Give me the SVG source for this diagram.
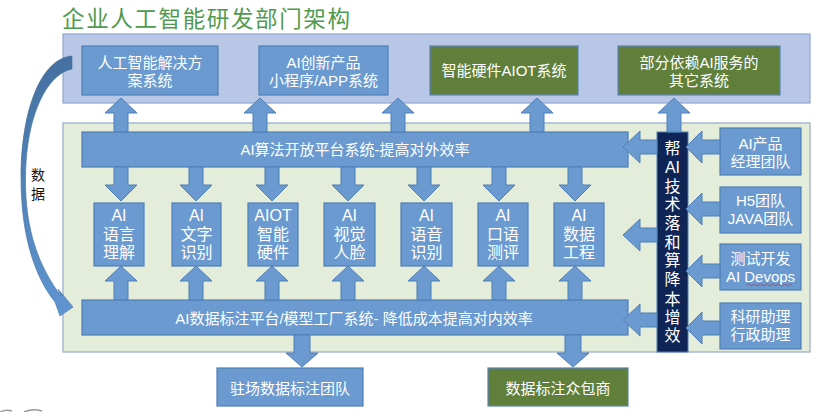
<svg xmlns="http://www.w3.org/2000/svg" width="830" height="412" viewBox="0 0 830 412">
<defs>
<style>
.t{font-family:"Liberation Sans","Noto Sans CJK SC",sans-serif;fill:#ffffff;text-anchor:middle;font-size:15px}
.s{font-size:16px}
.blue{fill:#6a9ad0;stroke:#4f7fb8;stroke-width:1.2}
.green{fill:#5f7f3b;stroke:#5a84bb;stroke-width:1.2}
.arr{fill:#6a9ad0;stroke:#4f7fb8;stroke-width:1}
.d{font-family:"Noto Sans CJK SC",sans-serif;font-size:14px;fill:#111111;text-anchor:middle}
</style>
<linearGradient id="cg" x1="0" y1="0" x2="0" y2="1">
<stop offset="0" stop-color="#44709f"/>
<stop offset="1" stop-color="#5f95d2"/>
</linearGradient>
</defs>
<rect width="830" height="412" fill="#ffffff"/>
<text x="62" y="26.5" style="font-family:'Noto Sans CJK SC',sans-serif;font-size:22.5px;fill:#4f9a4f" textLength="288">企业人工智能研发部门架构</text>

<g id="panel-top"><rect x="63" y="34" width="747" height="69" fill="#b8c7e6" stroke="#8fa6cf" stroke-width="1.2"/></g>
<g id="panel-bottom"><rect x="63" y="123" width="747" height="229" fill="#e4edd9" stroke="#95aacc" stroke-width="1.2"/></g>

<g id="box-ai-solution"><rect class="blue" x="82" y="46" width="136" height="49"/><text class="t" x="150" y="67.5">人工智能解决方</text><text class="t" x="150" y="85.5">案系统</text></g>
<g id="box-ai-product"><rect class="blue" x="259" y="46" width="129" height="49"/><text class="t" x="323.5" y="67.5">AI创新产品</text><text class="t" x="323.5" y="85.5">小程序/APP系统</text></g>
<g id="box-aiot"><rect class="green" x="430" y="46" width="148" height="49"/><text class="t" x="504" y="76">智能硬件AIOT系统</text></g>
<g id="box-other"><rect class="green" x="618" y="46" width="162" height="49"/><text class="t" x="699" y="67.5">部分依赖AI服务的</text><text class="t" x="699" y="85.5">其它系统</text></g>

<g id="bar-algo"><rect class="blue" x="82" y="132" width="546" height="35"/><text class="t" x="355" y="155">AI算法开放平台系统-提高对外效率</text></g>
<g id="bar-data"><rect class="blue" x="82" y="300" width="546" height="35"/><text class="t" x="354" y="323.5">AI数据标注平台/模型工厂系统- 降低成本提高对内效率</text></g>

<g id="m1"><rect class="blue" x="94" y="203" width="50" height="63"/><text class="t s" x="119" y="221">AI</text><text class="t s" x="119" y="240">语言</text><text class="t s" x="119" y="258">理解</text></g>
<g id="m2"><rect class="blue" x="172" y="203" width="49" height="63"/><text class="t s" x="196.5" y="221">AI</text><text class="t s" x="196.5" y="240">文字</text><text class="t s" x="196.5" y="258">识别</text></g>
<g id="m3"><rect class="blue" x="248" y="203" width="50" height="63"/><text class="t s" x="273" y="221">AIOT</text><text class="t s" x="273" y="240">智能</text><text class="t s" x="273" y="258">硬件</text></g>
<g id="m4"><rect class="blue" x="324" y="203" width="51" height="63"/><text class="t s" x="349.5" y="221">AI</text><text class="t s" x="349.5" y="240">视觉</text><text class="t s" x="349.5" y="258">人脸</text></g>
<g id="m5"><rect class="blue" x="401" y="203" width="51" height="63"/><text class="t s" x="426.5" y="221">AI</text><text class="t s" x="426.5" y="240">语音</text><text class="t s" x="426.5" y="258">识别</text></g>
<g id="m6"><rect class="blue" x="478" y="203" width="50" height="63"/><text class="t s" x="503" y="221">AI</text><text class="t s" x="503" y="240">口语</text><text class="t s" x="503" y="258">测评</text></g>
<g id="m7"><rect class="blue" x="554" y="203" width="50" height="63"/><text class="t s" x="579" y="221">AI</text><text class="t s" x="579" y="240">数据</text><text class="t s" x="579" y="258">工程</text></g>

<g id="navy"><rect x="657" y="132" width="31" height="220" fill="#0f2555" stroke="#4f7fb8" stroke-width="1"/>
<text class="t s" x="672.5" y="154">帮</text>
<text class="t s" x="672.5" y="173">AI</text>
<text class="t s" x="672.5" y="192">技</text>
<text class="t s" x="672.5" y="210">术</text>
<text class="t s" x="672.5" y="229">落</text>
<text class="t s" x="672.5" y="248">和</text>
<text class="t s" x="672.5" y="266">算</text>
<text class="t s" x="672.5" y="285">降</text>
<text class="t s" x="672.5" y="305">本</text>
<text class="t s" x="672.5" y="323">增</text>
<text class="t s" x="672.5" y="341">效</text>
</g>

<g id="team-pm"><rect class="blue" x="720" y="128" width="81" height="47"/><text class="t" x="760.5" y="148.5">AI产品</text><text class="t" x="760.5" y="166.5">经理团队</text></g>
<g id="team-dev"><rect class="blue" x="720" y="187" width="81" height="46"/><text class="t" x="760.5" y="205.5">H5团队</text><text class="t" x="760.5" y="223.5">JAVA团队</text></g>
<g id="team-test"><rect class="blue" x="720" y="244" width="81" height="46"/><text class="t" x="760.5" y="263.5">测试开发</text><text class="t" x="760.5" y="281.5">AI Devops</text>
<path d="M747,285 q1.5,-2 3,0 t3,0 t3,0 t3,0 t3,0 t3,0 t3,0 t3,0 t3,0 t3,0 t3,0 t3,0 t3,0 t3,0 t3,0" fill="none" stroke="#e03030" stroke-width="0.8"/></g>
<g id="team-research"><rect class="blue" x="720" y="303" width="81" height="46"/><text class="t" x="760.5" y="321.5">科研助理</text><text class="t" x="760.5" y="339.5">行政助理</text></g>

<g id="box-onsite"><rect class="blue" x="217" y="368" width="146" height="38"/><text class="t" x="290" y="393.5">驻场数据标注团队</text></g>
<g id="box-crowd"><rect class="green" x="488" y="368" width="140" height="38"/><text class="t" x="558" y="393.5">数据标注众包商</text></g>

<g id="connectors">
<polygon class="arr" points="121,98 137,113 128,113 128,132 114,132 114,113 105,113"/>
<polygon class="arr" points="260,98 276,113 267,113 267,132 253,132 253,113 244,113"/>
<polygon class="arr" points="398,98 414,113 405,113 405,132 391,132 391,113 382,113"/>
<polygon class="arr" points="537,98 553,113 544,113 544,132 530,132 530,113 521,113"/>
<polygon class="arr" points="674,98 690,113 681,113 681,132 667,132 667,113 658,113"/>

<polygon class="arr" points="114,167 128,167 128,185 137,185 121,201 105,185 114,185"/>
<polygon class="arr" points="189,167 203,167 203,185 212,185 196,201 180,185 189,185"/>
<polygon class="arr" points="265,167 279,167 279,185 288,185 272,201 256,185 265,185"/>
<polygon class="arr" points="341,167 355,167 355,185 364,185 348,201 332,185 341,185"/>
<polygon class="arr" points="417,167 431,167 431,185 440,185 424,201 408,185 417,185"/>
<polygon class="arr" points="492,167 506,167 506,185 515,185 499,201 483,185 492,185"/>
<polygon class="arr" points="568,167 582,167 582,185 591,185 575,201 559,185 568,185"/>

<polygon class="arr" points="121,266 137,281 128,281 128,300 114,300 114,281 105,281"/>
<polygon class="arr" points="196,266 212,281 203,281 203,300 189,300 189,281 180,281"/>
<polygon class="arr" points="272,266 288,281 279,281 279,300 265,300 265,281 256,281"/>
<polygon class="arr" points="348,266 364,281 355,281 355,300 341,300 341,281 332,281"/>
<polygon class="arr" points="424,266 440,281 431,281 431,300 417,300 417,281 408,281"/>
<polygon class="arr" points="499,266 515,281 506,281 506,300 492,300 492,281 483,281"/>
<polygon class="arr" points="575,266 591,281 582,281 582,300 568,300 568,281 559,281"/>

<polygon class="arr" points="623,147 640,131 640,140 657,140 657,154 640,154 640,163"/>
<polygon class="arr" points="623,235 640,219 640,228 657,228 657,242 640,242 640,251"/>
<polygon class="arr" points="623,320 640,304 640,313 657,313 657,327 640,327 640,336"/>

<polygon class="arr" points="686,147 702,131 702,140 720,140 720,154 702,154 702,163"/>
<polygon class="arr" points="686,209 702,193 702,202 720,202 720,216 702,216 702,225"/>
<polygon class="arr" points="686,271 702,255 702,264 720,264 720,278 702,278 702,287"/>
<polygon class="arr" points="686,328 702,312 702,321 720,321 720,335 702,335 702,344"/>

<polygon class="arr" points="294,335 310,335 310,353 318,353 302,367 286,353 294,353"/>
<polygon class="arr" points="565,335 581,335 581,353 589,353 573,367 557,353 565,353"/>

<path id="data-arrow" d="M72,56 L72,69 C49,73 26,112 25.5,178 C25,232 40,268 61,296 L58,289 L73,307 L60,316 L55,302 C34,276 21,234 21,178 C21,108 42,58 72,56 Z" fill="url(#cg)" stroke="#41719c" stroke-width="0.6"/>
</g>
<text class="d" x="38" y="180">数</text>
<text class="d" x="38" y="199">据</text>
<path d="M0,412 Q6,409 12,411 M24,412 Q33,408 42,411" fill="none" stroke="#9a9a9a" stroke-width="1.5"/>
</svg>
